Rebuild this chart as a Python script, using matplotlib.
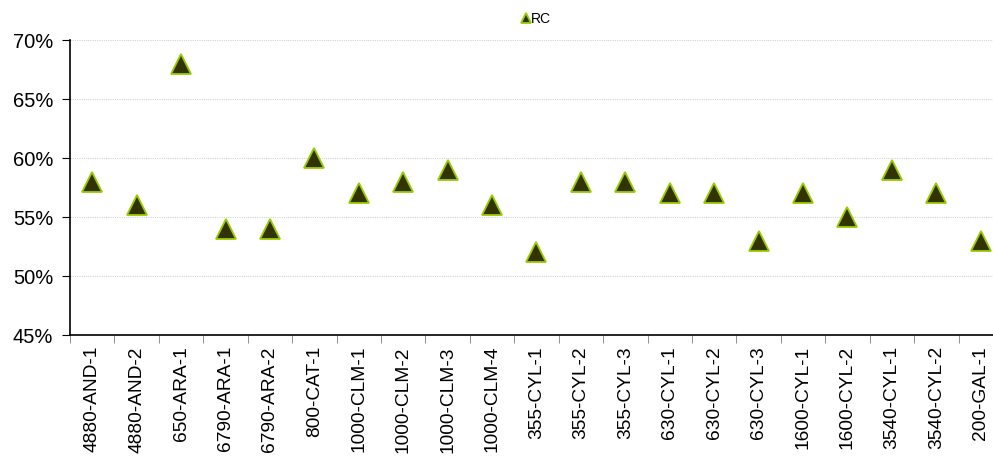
import numpy as np
import matplotlib
matplotlib.use("Agg")
import matplotlib.pyplot as plt
from matplotlib.ticker import FixedLocator, NullFormatter, PercentFormatter

plt.rcParams["font.family"] = ["Liberation Sans", "DejaVu Sans"]

categories = ["4880-AND-1", "4880-AND-2", "650-ARA-1", "6790-ARA-1", "6790-ARA-2",
              "800-CAT-1", "1000-CLM-1", "1000-CLM-2", "1000-CLM-3", "1000-CLM-4",
              "355-CYL-1", "355-CYL-2", "355-CYL-3", "630-CYL-1", "630-CYL-2",
              "630-CYL-3", "1600-CYL-1", "1600-CYL-2", "3540-CYL-1", "3540-CYL-2",
              "200-GAL-1"]
rc = [58, 56, 68, 54, 54, 60, 57, 58, 59, 56, 52, 58, 58, 57, 57, 53, 57, 55, 59, 57, 53]

FILL = "#333300"
EDGE = "#99CC00"

W, H = 993, 461
fig = plt.figure(figsize=(W / 100, H / 100), dpi=100)
# axes right edge runs slightly past the image edge, as in the reference
ax = fig.add_axes([70 / W, 1 - 335 / H, 933 / W, 295 / H])

x = np.arange(len(categories))
ax.plot(x, rc, linestyle="none", marker="^", markersize=14,
        markerfacecolor=FILL, markeredgecolor=EDGE, markeredgewidth=1.3,
        label="RC", clip_on=False, zorder=3)

ax.set_xlim(-0.5, len(categories) - 0.5)
ax.set_ylim(45, 70)
ax.set_yticks(np.arange(45, 71, 5))
ax.yaxis.set_major_formatter(PercentFormatter(decimals=0))
ax.grid(axis="y", color="#D4D4D4", linestyle=(0, (1, 1)), linewidth=0.8)
ax.set_axisbelow(True)

ax.set_xticks(x)
ax.set_xticklabels(categories, rotation=90, fontsize=13.8)
ax.tick_params(axis="x", which="major", length=0, pad=8)
ax.xaxis.set_minor_locator(FixedLocator(np.arange(-0.5, len(categories), 1)))
ax.xaxis.set_minor_formatter(NullFormatter())
ax.tick_params(axis="x", which="minor", length=6, color="#808080", direction="out")
ax.tick_params(axis="y", labelsize=14.5, length=6, direction="out", pad=6)

for s in ["top", "right"]:
    ax.spines[s].set_visible(False)
ax.spines["left"].set_linewidth(1.2)
ax.spines["bottom"].set_linewidth(1.2)

leg = ax.legend(loc="center", bbox_to_anchor=(0.5, 1.07), frameon=False,
                fontsize=10, markerscale=0.5, handlelength=0.6,
                handletextpad=0.1, borderpad=0)

fig.savefig("out.png", dpi=100)
